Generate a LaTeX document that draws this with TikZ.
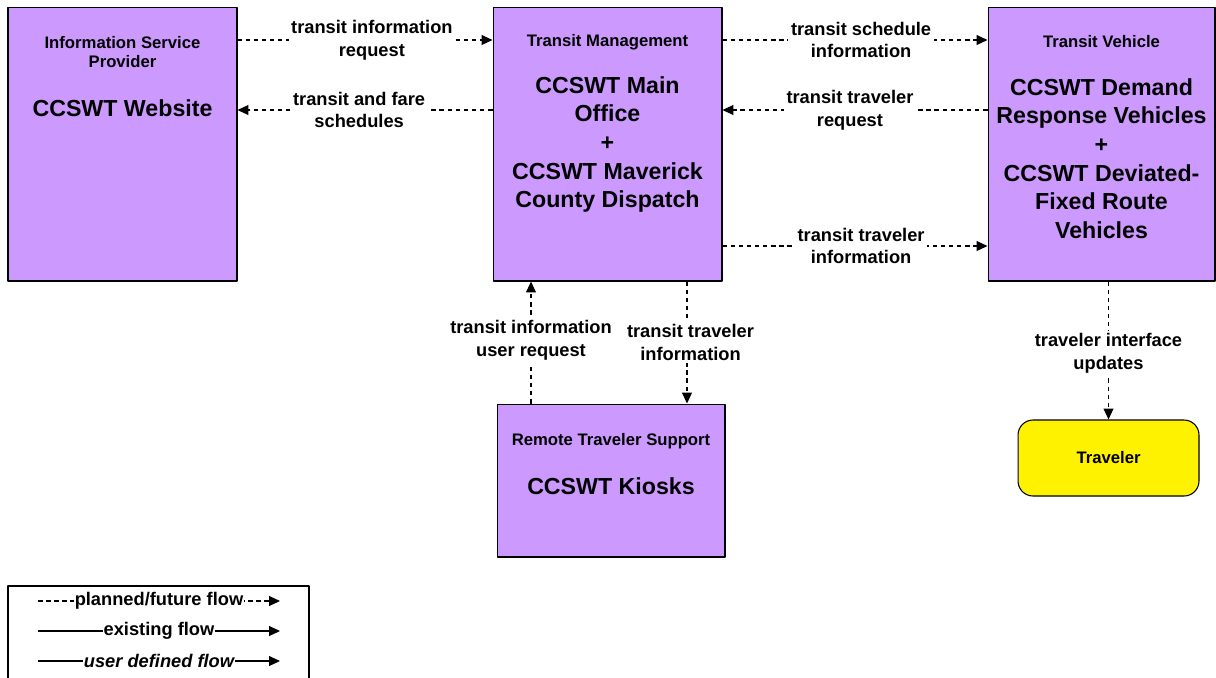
\documentclass[tikz,border=0pt]{standalone}
\usepackage{fontspec}
\setmainfont{Liberation Sans}
\usetikzlibrary{arrows.meta}
\definecolor{boxpurple}{HTML}{CC99FF}
\tikzset{
  sysbox/.style={draw=black, line width=0.6pt, fill=boxpurple, inner sep=0pt},
  usrbox/.style={draw=black, line width=0.6pt, fill=yellow, rounded corners=0.3cm, inner sep=0pt},
  smalltxt/.style={font=\bfseries\fontsize{9.5}{11.3}\selectfont, align=center, inner sep=0pt},
  bigtxt/.style={font=\bfseries\fontsize{13.2}{16.3}\selectfont, align=center, inner sep=0pt},
  flow/.style={->, line width=0.7pt, dash pattern=on 2.6pt off 2pt},
  lbl/.style={fill=white, font=\bfseries\fontsize{10.4}{13}\selectfont, align=center, inner sep=1.5pt},
}
\begin{document}
\begin{tikzpicture}[x=0.02cm, y=-0.02cm, >={Triangle[length=6.2pt,width=5.6pt]}, line join=round]
\useasboundingbox (0,0) rectangle (1216,677);
\node[sysbox, minimum width=4.58cm, minimum height=5.48cm] (isp) at (122.5,144) {};
\node[sysbox, minimum width=4.58cm, minimum height=5.48cm] (tm) at (607.5,144) {};
\node[sysbox, minimum width=4.54cm, minimum height=5.48cm] (tv) at (1101.5,144) {};
\node[sysbox, minimum width=4.56cm, minimum height=3.06cm] (rts) at (611,480.5) {};
\node[usrbox, minimum width=3.62cm, minimum height=1.52cm] (trav) at (1108.5,458) {};
\node[smalltxt] (ispt) at (122.5,52) {Information Service\\Provider};
\node[bigtxt] (ispn) at (122.5,108) {CCSWT Website};
\node[smalltxt] (tmt) at (607.5,42) {Transit Management};
\node[bigtxt] (tmn) at (607.5,144.5) {CCSWT Main\\Office\\+\\CCSWT Maverick\\County Dispatch};
\node[smalltxt] (tvt) at (1101.5,42) {Transit Vehicle};
\node[bigtxt] (tvn) at (1101.5,158.5) {CCSWT Demand\\Response Vehicles\\+\\CCSWT Deviated-\\Fixed Route\\Vehicles};
\node[smalltxt] (rtst) at (611,441) {Remote Traveler Support};
\node[bigtxt] (rtsn) at (611,486) {CCSWT Kiosks};
\node[smalltxt] (travn) at (1108.5,458) {Traveler};
\draw[flow] (isp.east |- 0,40) -- (tm.west |- 0,40) node[lbl, pos=0.527] {transit information\\request};
\draw[flow] (tm.west |- 0,110) -- (isp.east |- 0,110) node[lbl, pos=0.523] {transit and fare\\schedules};
\draw[flow] (tm.east |- 0,40) -- (tv.west |- 0,40) node[lbl, pos=0.523] {transit schedule\\information};
\draw[flow] (tv.west |- 0,110) -- (tm.east |- 0,110) node[lbl, pos=0.519] {transit traveler\\request};
\draw[flow] (tm.east |- 0,246) -- (tv.west |- 0,246) node[lbl, pos=0.523] {transit traveler\\information};
\draw[flow] (rts.north -| 531,0) -- (tm.south -| 531,0) node[lbl, pos=0.52] {transit information\\user request};
\draw[flow] (tm.south -| 687,0) -- (rts.north -| 687,0) node[lbl, midway, xshift=2pt] {transit traveler\\information};
\draw[flow] (tv.south -| trav.north) -- (trav.north) node[lbl, pos=0.52] {traveler interface\\updates};
\draw[line width=0.6pt] (8,690) |- (309,586) -- (309,690);
\coordinate (lga) at (38,601);
\coordinate (lgb) at (280,601);
\coordinate (lgc) at (38,631);
\coordinate (lgd) at (280,631);
\coordinate (lge) at (38,661);
\coordinate (lgf) at (280,661);
\draw[flow] (lga) -- (lgb) node[lbl, midway, inner sep=0.5pt] {planned/future flow};
\draw[->, line width=0.7pt] (lgc) -- (lgd) node[lbl, midway, inner sep=0.5pt] {existing flow};
\draw[->, line width=0.7pt] (lge) -- (lgf) node[lbl, midway, inner sep=0.5pt, font=\bfseries\itshape\fontsize{10.4}{13}\selectfont] {user defined flow};
\end{tikzpicture}
\end{document}
